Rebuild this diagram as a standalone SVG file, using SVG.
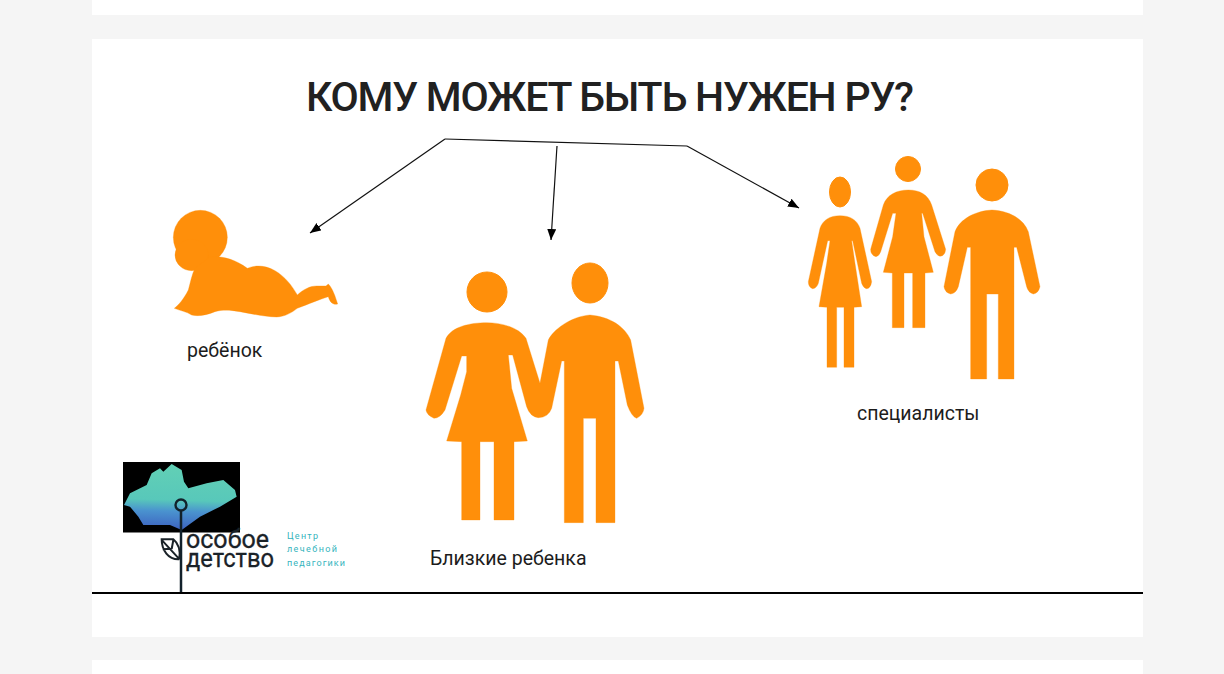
<svg xmlns="http://www.w3.org/2000/svg" width="1224" height="674" viewBox="0 0 1224 674">
<style>
.panel{fill:#fff}
.fig{fill:#ff8f0a;stroke:#ff8f0a;stroke-width:1;stroke-linejoin:round}
.conn{fill:none;stroke:#111;stroke-width:1.2}
.lbl{font-family:Roboto,"Liberation Sans",sans-serif;font-size:19.500px;fill:#1c1c1c}
.title{font-family:Roboto,"Liberation Sans",sans-serif;font-size:41px;font-weight:500;fill:#212121}
.lg{font-family:Roboto,"Liberation Sans",sans-serif;font-size:26px;font-weight:400;fill:#1a2228;stroke:#1a2228;stroke-width:.3}
.lt{font-family:Roboto,"Liberation Sans",sans-serif;font-size:9px;fill:#35b4bd}
</style>
<defs>
<marker id="a" markerUnits="userSpaceOnUse" markerWidth="12" markerHeight="10" refX="11" refY="4.5" orient="auto"><path d="M0 0L11 4.500L0 9z" fill="#000"/></marker>
<linearGradient id="blob" x1=".55" y1="0" x2=".5" y2="1"><stop offset="0" stop-color="#62d0b5"/><stop offset=".55" stop-color="#58c8ba"/><stop offset=".72" stop-color="#4a93cf"/><stop offset="1" stop-color="#3d62c0"/></linearGradient>
</defs>
<rect width="1224" height="674" fill="#f5f5f5"/>
<rect class="panel" x="92" y="0" width="1051" height="15"/>
<rect class="panel" x="92" y="39" width="1051" height="598"/>
<rect class="panel" x="92" y="660" width="1051" height="14"/>
<g id="title"><text class="title" x="306" y="111" textLength="608">КОМУ МОЖЕТ БЫТЬ НУЖЕН РУ?</text></g>
<g id="connectors">
<path class="conn" d="M445 139L687 146"/>
<path class="conn" d="M445 139L310 233" marker-end="url(#a)"/>
<path class="conn" d="M557 146L551 240" marker-end="url(#a)"/>
<path class="conn" d="M687 146L799 208" marker-end="url(#a)"/>
</g>
<g id="baby">
<g transform="translate(160 200) scale(.3333)">
<circle class="fig" cx="121" cy="112" r="81"/>
<ellipse class="fig" cx="95" cy="165" rx="50" ry="47"/>
<path class="fig" d="M150 170C190 168 225 178 262 205C285 195 315 195 345 212C375 230 395 255 412 285C430 268 450 258 470 258L498 258L505 252C518 265 526 290 533 312C520 315 510 308 505 290C480 298 445 312 412 325C395 338 375 350 350 351C310 350 270 340 240 335C210 330 190 328 165 335C140 345 115 350 95 345C80 335 60 332 43 325C55 315 70 300 85 270C92 245 95 225 105 205Z"/>
</g>
<text class="lbl" x="187" y="357">ребёнок</text>
</g>
<g id="couple">
<circle class="fig" cx="487" cy="292" r="20"/>
<ellipse class="fig" cx="590" cy="283" rx="18" ry="20"/>
<path class="fig" transform="translate(420 255) scale(.3333)" d="M200 203C240 203 295 215 318 250L360 385L385 255C400 225 450 185 510 180C570 185 615 215 632 255L672 460Q670 480 650 490Q635 485 622 450L595 318L585 318L585 803L528 803L528 490L490 490L490 803L433 803L433 318L425 318L395 460Q385 488 355 488Q330 485 320 455L278 300L265 300L275 400L322 558L282 560L282 795L222 795L222 560L180 560L180 795L125 795L125 560L80 558L122 420L140 350L140 303L125 303L75 465Q60 490 42 490Q20 480 18 465L78 250C95 215 150 203 200 203Z"/>
<text class="lbl" x="430" y="565">Близкие ребенка</text>
</g>
<g id="specialists">
<ellipse class="fig" cx="840" cy="192" rx="10.500" ry="15"/>
<circle class="fig" cx="908" cy="169" r="12.500"/>
<circle class="fig" cx="992" cy="185" r="16"/>
<path class="fig" transform="translate(800 150) scale(.3333)" d="M120 197C150 197 172 210 180 235L215 395Q212 415 200 416Q190 415 185 400L158 272L155 272L165 340L185 470L162 472L162 652L132 652L132 472L110 472L110 652L81 652L81 472L57 470L80 340L90 272L83 272L55 400Q50 415 38 416Q25 412 25 395L60 235C68 210 90 197 120 197Z"/>
<path class="fig" transform="translate(800 150) scale(.3333)" d="M325 120C360 120 385 135 395 165L437 298Q435 318 420 319Q410 316 405 305L368 190L365 190L372 260L400 367L375 369L375 533L338 533L338 369L312 369L312 533L277 533L277 369L250 367L278 260L288 190L278 190L242 305Q238 318 228 320Q212 316 212 298L250 165C260 135 290 120 325 120Z"/>
<path class="fig" transform="translate(800 150) scale(.3333)" d="M576 180C625 182 670 205 685 245L720 410Q715 430 700 432Q685 428 680 410L650 292L642 292L642 687L595 687L595 432L560 432L560 687L512 687L512 292L502 292L475 410Q468 430 452 432Q435 428 432 410L465 245C480 205 530 182 576 180Z"/>
<text class="lbl" x="857" y="420">специалисты</text>
</g>
<g id="logo">
<rect x="123" y="462" width="117" height="70.500" fill="#000"/>
<path fill="url(#blob)" transform="translate(110 450) scale(.3333)" d="M42 165L60 130L110 105L125 70L150 55L160 65L185 42L215 60L222 95L235 115L290 100L340 90L375 120L380 140L330 170L270 200L215 240L180 225L150 225L100 225L85 200L60 170Z"/>
<path d="M181 510V593" stroke="#12212b" stroke-width="2.500" fill="none"/>
<circle cx="181" cy="505" r="5.500" fill="none" stroke="#12212b" stroke-width="2.400"/>
<path transform="translate(110 450) scale(.3333)" d="M208 328C175 330 155 300 155 268L190 268C205 280 212 300 208 328M157 272L206 325M158 298L183 296M190 270L185 297" fill="none" stroke="#1a2228" stroke-width="6"/>
<text class="lg" x="186" y="548" textLength="83" lengthAdjust="spacingAndGlyphs">особое</text>
<text class="lg" x="186" y="567" textLength="88" lengthAdjust="spacingAndGlyphs">детство</text>
<text class="lt" x="287" y="539" textLength="31">Центр</text>
<text class="lt" x="287" y="552" textLength="50">лечебной</text>
<text class="lt" x="287" y="566" textLength="58">педагогики</text>
</g>
<path d="M92 593H1143" stroke="#000" stroke-width="2"/>
</svg>
